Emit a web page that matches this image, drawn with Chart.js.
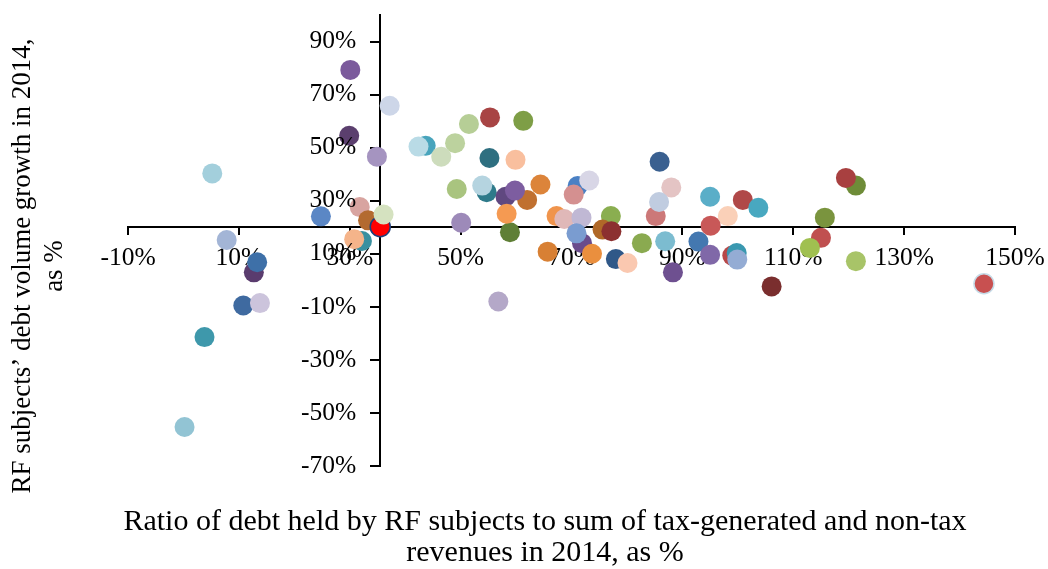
<!DOCTYPE html>
<html>
<head>
<meta charset="utf-8">
<script src="https://cdn.jsdelivr.net/npm/chart.js@4/dist/chart.umd.min.js"></script>
<style>
  body { margin: 0; background: #fff; }
</style>
</head>
<body>
<canvas id="grafico" width="1048" height="569"></canvas>
<script>
// ratio of debt to revenues, %  (one value per RF subject)
const xValues = [
  30.1, 37.2, 29.9, 34.9, 43.7, 42.4, 49.0, 46.5, 51.5, 55.3,
  61.3, 55.2, 59.9, 49.3, 54.7, 53.9, 58.1, 62.0, 59.8, 64.4,
  71.1, 73.2, 70.4, 58.9, 58.3, 50.1, 67.3, 68.7, 71.8, 77.1,
  71.9, 70.9, 75.6, 77.2, 65.7, 73.7, 78.0, 80.1, 82.7, 85.9,
  85.2, 88.0, 85.8, 86.9, 92.9, 95.0, 100.9, 103.7, 98.2, 95.1,
  95.0, 99.0, 99.8, 99.9, 88.3, 106.1, 121.3, 119.5, 115.7, 115.0,
  113.0, 121.3, 144.4, 56.8, 24.8, 31.8, 33.3, 35.5, 36.1, 32.2,
  30.8, 7.8, 12.7, 13.3, 10.8, 13.8, 5.2, 3.8, 0.2
];

// debt volume growth in 2014, %
const yValues = [
  79.3, 65.8, 54.5, 46.6, 50.7, 50.4, 51.7, 46.6, 58.9, 61.4,
  60.1, 46.1, 45.4, 34.4, 33.2, 35.7, 31.5, 30.3, 33.8, 36.1,
  35.5, 37.6, 32.3, 18.1, 25.1, 21.7, 24.2, 23.1, 23.6, 24.2,
  14.0, 17.7, 19.1, 18.5, 10.8, 10.0, 8.0, 6.5, 14.0, 44.7,
  24.2, 35.0, 29.5, 14.7, 14.6, 31.5, 30.3, 27.3, 24.2, 20.6,
  9.6, 9.3, 10.3, 7.8, 3.0, -2.3, 35.7, 38.6, 23.6, 16.0,
  12.2, 7.2, -1.3, -8.0, 24.1, 27.6, 22.6, 20.2, 24.8, 14.8,
  15.5, 15.2, 3.0, 6.8, -9.5, -8.6, 40.3, -21.4, -55.3
];

const pointColors = [
  "#7b5a9c", "#cdd6e8", "#5b3f6e", "#a594c0", "#48a4bc", "#b9dbe6", "#bcd29e", "#cddcbc", "#b6ce96", "#a84444",
  "#7e9e46", "#2e6f80", "#f9bf9e", "#a9c47f", "#2e7a8a", "#b5d4e0", "#604880", "#c07030", "#7d5da0", "#dc843a",
  "#4a80c4", "#d8d6e6", "#d49090", "#5f7f36", "#f59a52", "#9d8ab9", "#f0944c", "#e0b8b8", "#c0b8d4", "#8aae50",
  "#6a4c8c", "#7a9cd0", "#b06828", "#8c3030", "#d88034", "#ea8f3e", "#305888", "#fac8b0", "#8aaa50", "#3a6090",
  "#cc7878", "#e4c4c4", "#c0cce0", "#7cbcd0", "#4478b0", "#5aaec8", "#b04848", "#48a8c0", "#fad0b8", "#c85858",
  "#8068a8", "#b84848", "#3a98b0", "#94acd4", "#6e5090", "#7a2e2e", "#6e8c38", "#a84040", "#7a943e", "#c05050",
  "#a0c050", "#a8c468", "#c85050", "#b4a8c8", "#5b87c5", "#d8a4a0", "#b36a30", "#ff0000", "#d5e2c0", "#3a90a0",
  "#f5b48a", "#a3b5d6", "#5a3c6e", "#3e70a8", "#3f6aa0", "#ccc4dc", "#a3cfdc", "#3e98ab", "#92c4d4"
];

const xTicks = [-10, 10, 30, 50, 70, 90, 110, 130, 150];
const yTicks = [-70, -50, -30, -10, 10, 30, 50, 70, 90];

const xTitle = ["Ratio of debt held by RF subjects to sum of tax-generated and non-tax", "revenues in 2014, as %"];
const yTitle = ["RF subjects’ debt volume growth in 2014,", "as %"];

// the red point is the Russia average, axes cross there
const crossX = 35.5;
const crossY = 20;

const borderColors = pointColors.slice();
const borderWidths = pointColors.map(() => 0);
borderColors[62] = "#c6dce8"; borderWidths[62] = 1.5;
borderColors[67] = "#1f3f7a"; borderWidths[67] = 1.5;

const serif = "'Liberation Serif', 'Times New Roman', serif";
const fuente = { family: serif, size: 25.5 };

// y tick labels (left of the crossing axis) and the two axis titles
const axisTexts = {
  id: "axisTexts",
  afterDraw(chart) {
    const ctx = chart.ctx;
    const sx = chart.scales.x;
    const sy = chart.scales.y;
    ctx.save();
    ctx.fillStyle = "#000";
    ctx.font = "25.5px " + serif;
    ctx.textAlign = "right";
    ctx.textBaseline = "middle";
    const lx = sx.getPixelForValue(crossX) - 9 - 15;
    yTicks.forEach((v) => ctx.fillText(v + "%", lx, sy.getPixelForValue(v)));

    ctx.textAlign = "center";
    ctx.font = "30px " + serif;
    xTitle.forEach((t, i) => ctx.fillText(t, 545, 522 + i * 31));
    ctx.font = "27px " + serif;
    ctx.translate(23, 266);
    ctx.rotate(-Math.PI / 2);
    yTitle.forEach((t, i) => ctx.fillText(t, 0, i * 32));
    ctx.restore();
  },
};

const puntos = xValues.map((x, i) => ({ x: x, y: yValues[i] }));

chart = new Chart("grafico", {
  type: "scatter",
  data: {
    datasets: [
      {
        data: puntos,
        pointBackgroundColor: pointColors,
        pointBorderColor: borderColors,
        pointBorderWidth: borderWidths,
        pointRadius: 10,
        pointHoverRadius: 10,
      },
    ],
  },
  options: {
    responsive: false,
    animation: false,
    events: [],
    layout: { padding: { left: 128, right: 33, top: 15, bottom: 103 } },
    plugins: { legend: { display: false }, tooltip: { enabled: false } },
    scales: {
      x: {
        type: "linear",
        position: { y: crossY },
        min: -10,
        max: 150,
        afterBuildTicks: (s) => { s.ticks = xTicks.map((v) => ({ value: v })); },
        afterFit: (s) => { s.paddingLeft = 0; s.paddingRight = 0; },
        ticks: { callback: (v) => v + "%", font: fuente, color: "#000", padding: 9, maxRotation: 0, autoSkip: false },
        grid: { drawOnChartArea: false, tickLength: 7, color: "#000", lineWidth: 2 },
        border: { color: "#000", width: 2 },
      },
      y: {
        type: "linear",
        position: { x: crossX },
        min: -70,
        max: 100,
        afterBuildTicks: (s) => { s.ticks = yTicks.map((v) => ({ value: v })); },
        afterFit: (s) => { s.paddingTop = 0; s.paddingBottom = 0; },
        ticks: { display: false },
        grid: { drawOnChartArea: false, tickLength: 9, color: "#000", lineWidth: 2 },
        border: { color: "#000", width: 2 },
      },
    },
  },
  plugins: [axisTexts],
});
</script>
</body>
</html>
